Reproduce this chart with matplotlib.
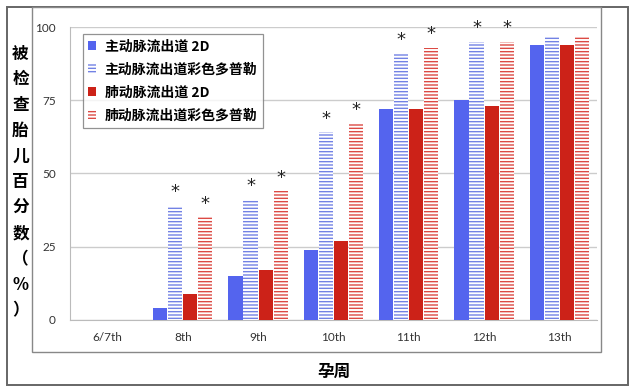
import matplotlib.pyplot as plt
import matplotlib.patches as mpatches
import numpy as np

plt.rcParams['font.family'] = ['Noto Sans CJK SC', 'DejaVu Sans']
plt.rcParams['hatch.linewidth'] = 1.0

weeks = ['6/7th', '8th', '9th', '10th', '11th', '12th', '13th']
aorta_2d = [0, 4, 15, 24, 72, 75, 94]
aorta_cdfi = [0, 39, 41, 64, 91, 95, 97]
pulm_2d = [0, 9, 17, 27, 72, 73, 94]
pulm_cdfi = [0, 35, 44, 67, 93, 95, 97]
# which doppler bars carry a significance star
star = [False, True, True, True, True, True, False]

labels = ['主动脉流出道 2D', '主动脉流出道彩色多普勒', '肺动脉流出道 2D', '肺动脉流出道彩色多普勒']

blue = '#5464ee'
blue_h = '#7282e4'
red = '#cc2218'
red_h = '#dc4a44'

fig = plt.figure(figsize=(6.4, 3.92), dpi=100)

# outer frame and inner box
fig.patches.append(mpatches.Rectangle((0.011, 0.018), 0.970, 0.964, transform=fig.transFigure,
                                      fill=False, edgecolor='#666666', linewidth=1.4))
fig.patches.append(mpatches.Rectangle((0.05, 0.102), 0.889, 0.88, transform=fig.transFigure,
                                      fill=False, edgecolor='#888888', linewidth=1.0))

ax = fig.add_axes([0.109, 0.184, 0.824, 0.747])

x = np.arange(len(weeks))
w = 0.2
series = [
    (aorta_2d, blue, None, blue),
    (aorta_cdfi, 'white', '-----', blue_h),
    (pulm_2d, red, None, red),
    (pulm_cdfi, 'white', '-----', red_h),
]
for i, (vals, fc, hatch, ec) in enumerate(series):
    pos = x + (i - 1.5) * w
    ax.bar(pos, vals, width=w * 0.94, color=fc, hatch=hatch, edgecolor=ec if hatch else 'none',
           linewidth=0, label=labels[i], zorder=3)
    if hatch:
        for p, v, s in zip(pos, vals, star):
            if s:
                ax.text(p, v + 1.5, '*', ha='center', va='bottom', fontsize=13,
                        color='#222222', family='DejaVu Sans', zorder=4)

ax.set_xlim(-0.5, 6.5)
ax.set_ylim(0, 100)
ax.set_yticks([0, 25, 50, 75, 100])
ax.set_xticks(x)
ax.set_xticklabels(weeks, family='Lato', fontsize=8.5, color='#333333')
for t in ax.get_yticklabels():
    t.set_family('Lato')
    t.set_fontsize(8.5)
    t.set_color('#333333')
ax.tick_params(length=0, pad=9)
ax.tick_params(axis='y', pad=10)
ax.grid(axis='y', color='#cccccc', linewidth=1.0, zorder=0)
for sp in ['top', 'right']:
    ax.spines[sp].set_visible(False)
ax.spines['left'].set_color('#bbbbbb')
ax.spines['bottom'].set_color('#bbbbbb')

ax.set_xlabel('孕周', fontsize=12, fontweight='bold', labelpad=14)
fig.text(0.032, 0.535, '被\n检\n查\n胎\n儿\n百\n分\n数\n（\n%\n）', fontsize=12, fontweight='bold',
         ha='center', va='center', linespacing=1.55)

leg = ax.legend(loc='upper left', bbox_to_anchor=(0.011, 1.0), prop={'weight': 'bold', 'size': 10},
                frameon=True, fancybox=False, edgecolor='#777777', handlelength=0.6, handleheight=0.6,
                handletextpad=0.6, labelspacing=0.65, borderpad=0.4)
leg.get_frame().set_linewidth(0.9)

fig.savefig('out.png', dpi=100)
